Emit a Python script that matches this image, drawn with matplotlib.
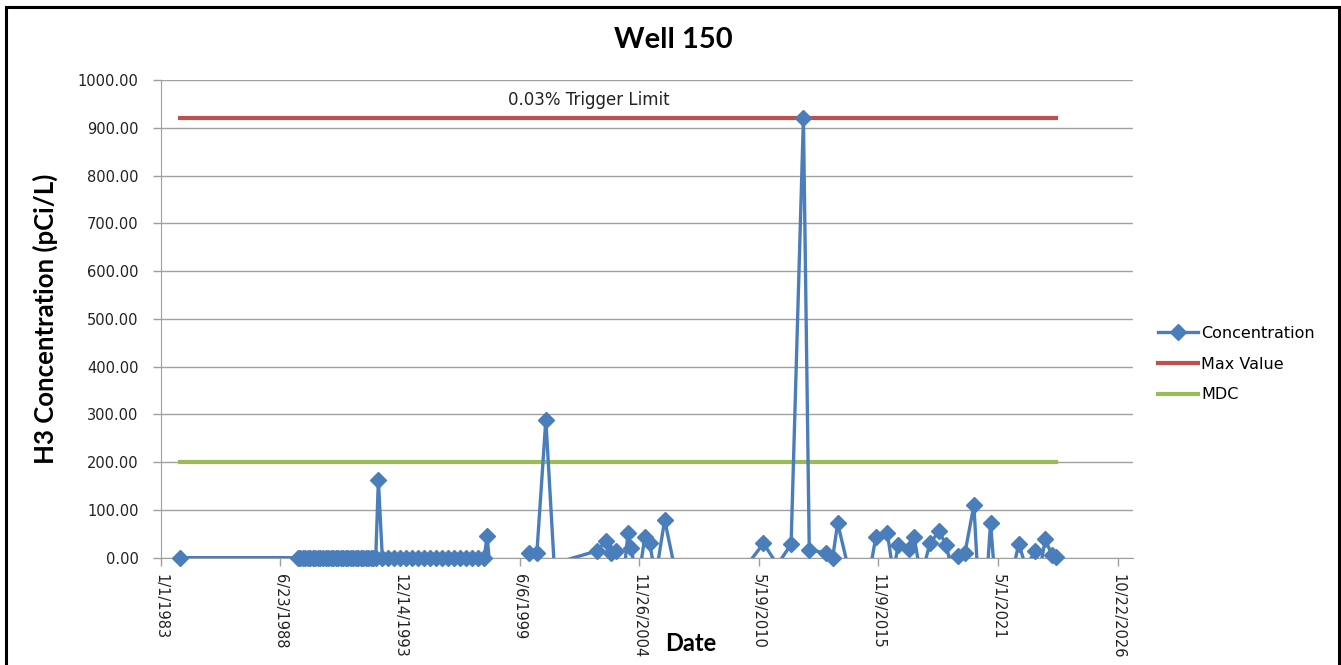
import numpy as np
import pandas as pd
import matplotlib
matplotlib.use("Agg")
import matplotlib.pyplot as plt
from matplotlib.lines import Line2D
from matplotlib.patches import Rectangle

# sample dates and H3 results (pCi/L); negative results fall below the axis
dates = [
    "1983-11-14",
    "1989-04-10", "1989-05-22", "1989-07-03", "1989-08-14", "1989-09-25", "1989-11-06",
    "1989-12-18", "1990-01-29", "1990-03-12", "1990-04-23", "1990-06-04", "1990-07-16",
    "1990-08-27", "1990-10-08", "1990-11-19", "1990-12-31", "1991-02-11", "1991-03-25",
    "1991-05-06", "1991-06-17", "1991-07-29", "1991-09-09", "1991-10-21", "1991-12-02",
    "1992-01-13", "1992-02-24", "1992-04-06", "1992-05-18", "1992-06-29", "1992-08-10",
    "1992-09-21", "1992-11-02", "1992-12-16",
    "1993-02-20", "1993-06-01", "1993-09-10", "1993-12-20", "1994-03-30", "1994-07-08",
    "1994-10-16", "1995-01-24", "1995-05-04", "1995-08-12", "1995-11-20", "1996-02-28",
    "1996-06-07", "1996-09-15", "1996-12-24", "1997-04-03", "1997-07-12", "1997-10-20",
    "1997-12-08",
    "1998-11-06", "1999-11-10", "2000-03-20", "2000-08-17", "2001-03-06", "2001-07-18",
    "2002-12-16", "2003-05-15", "2003-08-18", "2003-11-10", "2004-02-06", "2004-05-22",
    "2004-07-16", "2004-10-30", "2005-02-26", "2005-05-19", "2005-08-28", "2006-01-25",
    "2006-10-01", "2008-02-01", "2009-09-20", "2010-08-05", "2011-03-25", "2011-11-10",
    "2012-06-03", "2012-09-09", "2013-06-17", "2013-10-05", "2013-12-28", "2014-07-10",
    "2015-05-05", "2015-09-27", "2016-04-07", "2016-07-13", "2016-10-09", "2017-04-05",
    "2017-06-28", "2017-10-23", "2018-03-21", "2018-08-18", "2018-12-19", "2019-03-25",
    "2019-07-02", "2019-10-27", "2020-03-25", "2020-08-06", "2020-12-28", "2021-05-16",
    "2022-04-16", "2022-08-10", "2023-01-08", "2023-04-10", "2023-07-02", "2023-10-16",
    "2023-12-24",
]
concentration = (
    [0]
    + [0] * 32 + [162]
    + [0] * 18 + [45]
    + [-400, 10, 10, 289, -150, -5,
       14, 34, 10, 13, -80, 51,
       20, -60, 43, 30, -40, 79,
       -70, -50, -23, 30, -15, 28,
       920, 16, 10, 0, 72, -30,
       -60, 43, 51, -30, 27, 18,
       43, -40, 30, 55, 27, -30,
       3, 10, 110, -200, 73, -150,
       29, -20, 13, -20, 39, 6,
       2]
)
max_value = 920.0
mdc = 200.0
trigger_label = "0.03% Trigger Limit"

x = pd.to_datetime(dates)
y = np.array(concentration, dtype=float)

blue = "#4A7EBB"
red = "#C0504D"
green = "#9BBB59"
grid = "#A0A0A0"

fig = plt.figure(figsize=(13.41, 6.65), dpi=100)
ax = fig.add_axes([0.12, 0.1614, 0.725, 0.7183])

ax.plot(x, y, color=blue, lw=2.4, solid_joinstyle="round", zorder=3)
ok = y >= 0
ax.plot(x[ok], y[ok], ls="none", marker="D", ms=8.5, color=blue, clip_on=False, zorder=4)
ax.plot([x[0], x[-1]], [max_value, max_value], color=red, lw=3, zorder=2)
ax.plot([x[0], x[-1]], [mdc, mdc], color=green, lw=3, zorder=2)
ax.text(pd.Timestamp("2002-08-01"), 958, trigger_label, ha="center", va="center",
        fontsize=12, color="#222222", family="DejaVu Sans")

ax.set_ylim(0, 1000)
ax.set_yticks(np.arange(0, 1001, 100))
ax.yaxis.set_major_formatter(matplotlib.ticker.FuncFormatter(lambda v, p: f"{v:.2f}"))
start = pd.Timestamp("1983-01-01")
ticks = [start + pd.Timedelta(days=2000 * k) for k in range(9)]
ax.set_xlim(start, pd.Timestamp("2027-07-10"))
ax.set_xticks(ticks)
ax.set_xticklabels([f"{t.month}/{t.day}/{t.year}" for t in ticks], rotation=-90,
                   fontsize=10.5, va="top", ha="center", family="DejaVu Sans")
for lab in ax.get_yticklabels():
    lab.set_family("DejaVu Sans")

ax.grid(axis="y", color=grid, lw=1)
ax.set_axisbelow(True)
for s in ["top", "right"]:
    ax.spines[s].set_visible(False)
for s in ["left", "bottom"]:
    ax.spines[s].set_color(grid)
ax.tick_params(axis="both", colors=grid, length=6, width=1, labelcolor="#222222")
ax.tick_params(axis="y", labelsize=10.5, pad=10)
ax.tick_params(axis="x", pad=6)

fig.text(0.502, 0.94, "Well 150", ha="center", va="center", fontsize=21,
         fontweight="bold", family="Lato")
fig.text(0.515, 0.033, "Date", ha="center", va="center", fontsize=17,
         fontweight="bold", family="Lato")
fig.text(0.034, 0.52, "H3 Concentration (pCi/L)", ha="center", va="center",
         rotation=90, fontsize=18.5, fontweight="bold", family="Lato")

handles = [
    Line2D([], [], color=blue, lw=2.4, marker="D", ms=8.5),
    Line2D([], [], color=red, lw=3),
    Line2D([], [], color=green, lw=3),
]
fig.legend(handles, ["Concentration", "Max Value", "MDC"], loc="center left",
           bbox_to_anchor=(0.853, 0.4526), frameon=False, fontsize=11.5,
           prop={"family": "DejaVu Sans", "size": 11.5},
           handlelength=2.5, handletextpad=0.2, labelspacing=1.0)

fig.add_artist(Rectangle((6 / 1341, -0.05), 1333 / 1341, 1.05 - 7 / 665,
                         transform=fig.transFigure, fill=False, ec="black", lw=2.2))

fig.savefig("out.png", dpi=100)
